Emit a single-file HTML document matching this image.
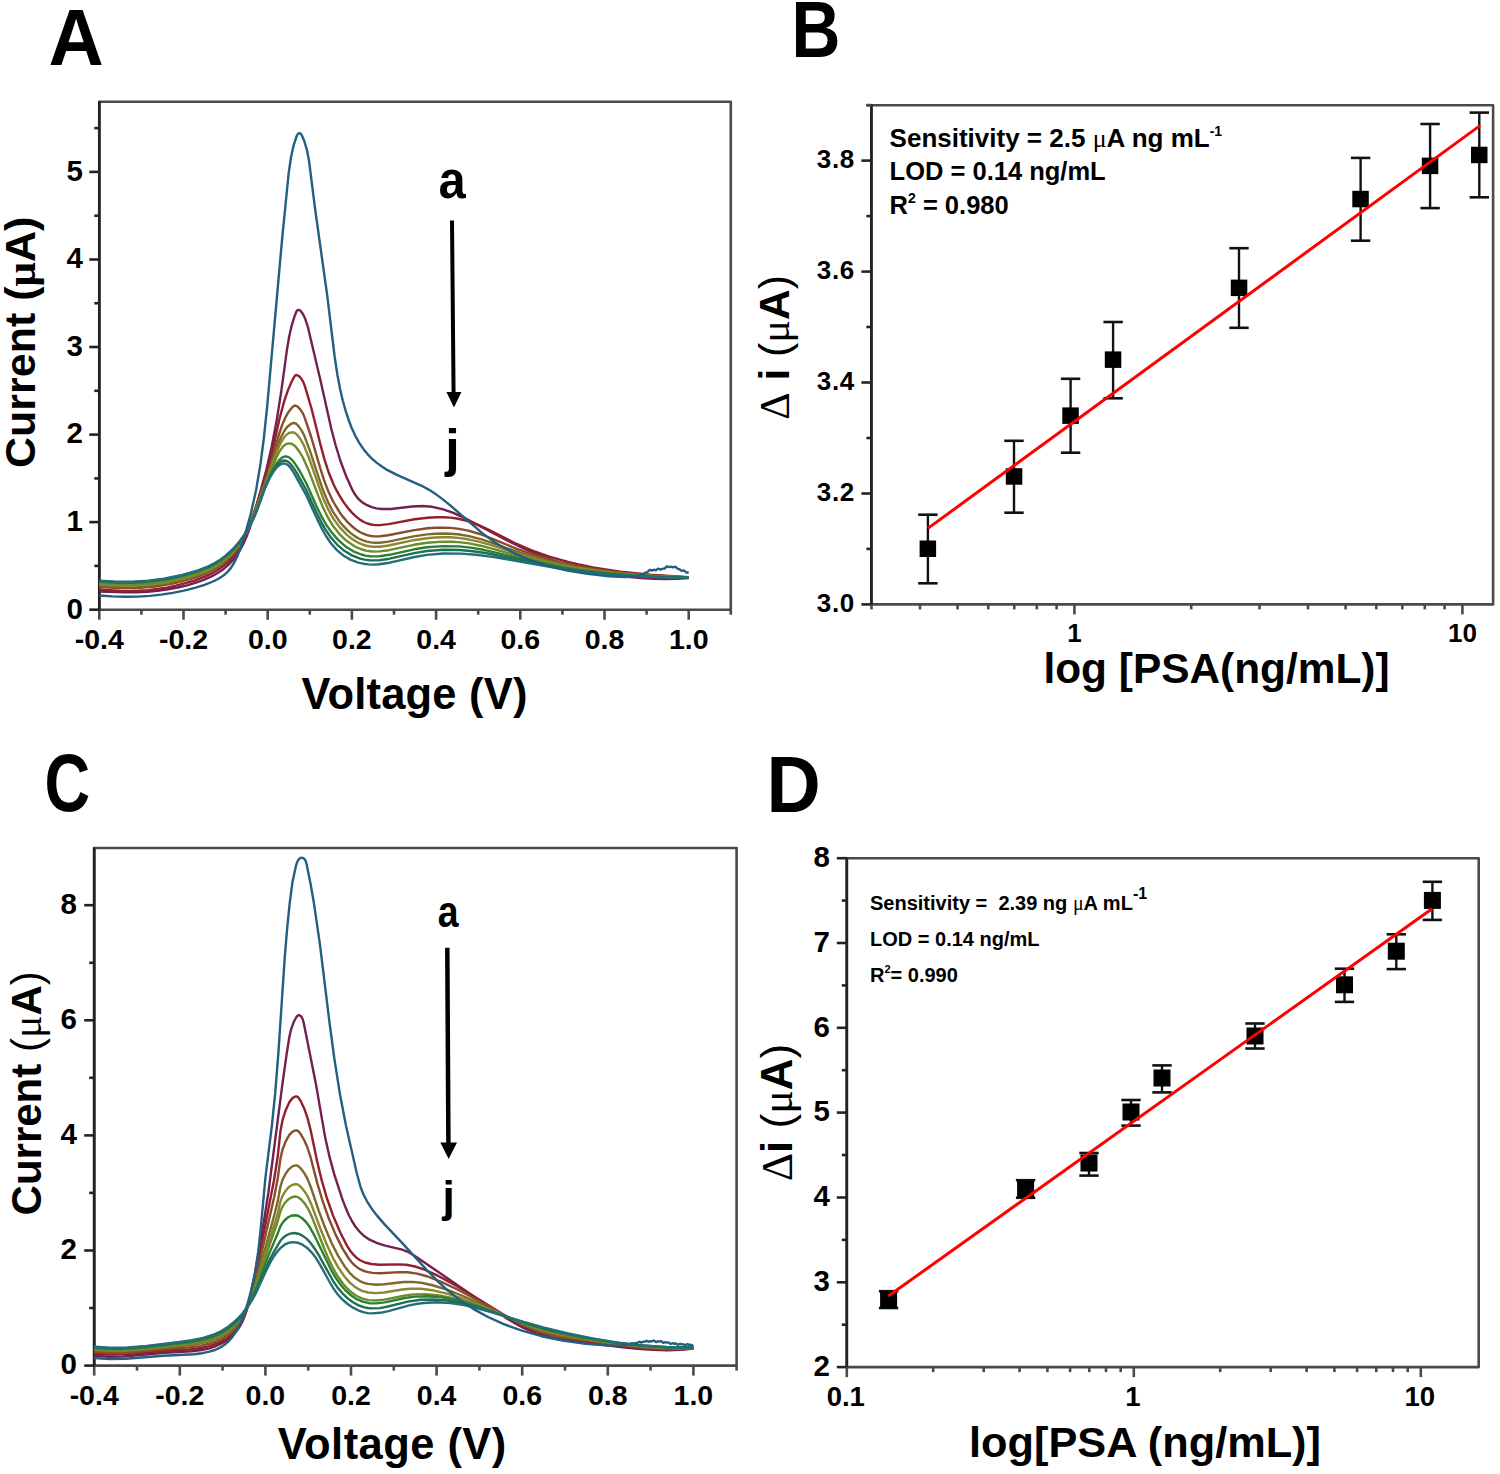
<!DOCTYPE html>
<html><head><meta charset="utf-8"><title>Figure</title>
<style>html,body{margin:0;padding:0;background:#fff;width:1500px;height:1474px;overflow:hidden}svg{display:block}</style>
</head><body>
<svg width="1500" height="1474" viewBox="0 0 1500 1474" font-family='"Liberation Sans", sans-serif'>
<rect width="1500" height="1474" fill="#fff"/>
<rect x="99.3" y="101.8" width="631.5" height="507.9" fill="none" stroke="#4a4a4a" stroke-width="2.6" stroke-linejoin="round"/>
<line x1="99.3" y1="102.3" x2="99.3" y2="609.7" stroke="#232323" stroke-width="2.7" stroke-linecap="round"/>
<line x1="99.3" y1="609.7" x2="99.3" y2="619.7" stroke="#4a4a4a" stroke-width="2.6"/>
<text x="99.3" y="648.7" font-size="28.5" text-anchor="middle" font-weight="bold" fill="#000">-0.4</text>
<line x1="141.4" y1="609.7" x2="141.4" y2="614.7" stroke="#4a4a4a" stroke-width="2.6"/>
<line x1="183.5" y1="609.7" x2="183.5" y2="619.7" stroke="#4a4a4a" stroke-width="2.6"/>
<text x="183.5" y="648.7" font-size="28.5" text-anchor="middle" font-weight="bold" fill="#000">-0.2</text>
<line x1="225.6" y1="609.7" x2="225.6" y2="614.7" stroke="#4a4a4a" stroke-width="2.6"/>
<line x1="267.7" y1="609.7" x2="267.7" y2="619.7" stroke="#4a4a4a" stroke-width="2.6"/>
<text x="267.7" y="648.7" font-size="28.5" text-anchor="middle" font-weight="bold" fill="#000">0.0</text>
<line x1="309.8" y1="609.7" x2="309.8" y2="614.7" stroke="#4a4a4a" stroke-width="2.6"/>
<line x1="351.9" y1="609.7" x2="351.9" y2="619.7" stroke="#4a4a4a" stroke-width="2.6"/>
<text x="351.9" y="648.7" font-size="28.5" text-anchor="middle" font-weight="bold" fill="#000">0.2</text>
<line x1="394" y1="609.7" x2="394" y2="614.7" stroke="#4a4a4a" stroke-width="2.6"/>
<line x1="436.1" y1="609.7" x2="436.1" y2="619.7" stroke="#4a4a4a" stroke-width="2.6"/>
<text x="436.1" y="648.7" font-size="28.5" text-anchor="middle" font-weight="bold" fill="#000">0.4</text>
<line x1="478.2" y1="609.7" x2="478.2" y2="614.7" stroke="#4a4a4a" stroke-width="2.6"/>
<line x1="520.3" y1="609.7" x2="520.3" y2="619.7" stroke="#4a4a4a" stroke-width="2.6"/>
<text x="520.3" y="648.7" font-size="28.5" text-anchor="middle" font-weight="bold" fill="#000">0.6</text>
<line x1="562.4" y1="609.7" x2="562.4" y2="614.7" stroke="#4a4a4a" stroke-width="2.6"/>
<line x1="604.5" y1="609.7" x2="604.5" y2="619.7" stroke="#4a4a4a" stroke-width="2.6"/>
<text x="604.5" y="648.7" font-size="28.5" text-anchor="middle" font-weight="bold" fill="#000">0.8</text>
<line x1="646.6" y1="609.7" x2="646.6" y2="614.7" stroke="#4a4a4a" stroke-width="2.6"/>
<line x1="688.7" y1="609.7" x2="688.7" y2="619.7" stroke="#4a4a4a" stroke-width="2.6"/>
<text x="688.7" y="648.7" font-size="28.5" text-anchor="middle" font-weight="bold" fill="#000">1.0</text>
<line x1="730.8" y1="609.7" x2="730.8" y2="614.7" stroke="#4a4a4a" stroke-width="2.6"/>
<line x1="89.3" y1="609.7" x2="99.3" y2="609.7" stroke="#232323" stroke-width="2.6"/>
<text x="83" y="618.6" font-size="29.5" text-anchor="end" font-weight="bold" fill="#000">0</text>
<line x1="89.3" y1="522.1" x2="99.3" y2="522.1" stroke="#232323" stroke-width="2.6"/>
<text x="83" y="531" font-size="29.5" text-anchor="end" font-weight="bold" fill="#000">1</text>
<line x1="89.3" y1="434.6" x2="99.3" y2="434.6" stroke="#232323" stroke-width="2.6"/>
<text x="83" y="443.4" font-size="29.5" text-anchor="end" font-weight="bold" fill="#000">2</text>
<line x1="89.3" y1="347" x2="99.3" y2="347" stroke="#232323" stroke-width="2.6"/>
<text x="83" y="355.9" font-size="29.5" text-anchor="end" font-weight="bold" fill="#000">3</text>
<line x1="89.3" y1="259.5" x2="99.3" y2="259.5" stroke="#232323" stroke-width="2.6"/>
<text x="83" y="268.3" font-size="29.5" text-anchor="end" font-weight="bold" fill="#000">4</text>
<line x1="89.3" y1="171.9" x2="99.3" y2="171.9" stroke="#232323" stroke-width="2.6"/>
<text x="83" y="180.8" font-size="29.5" text-anchor="end" font-weight="bold" fill="#000">5</text>
<line x1="94.3" y1="565.9" x2="99.3" y2="565.9" stroke="#232323" stroke-width="2.6"/>
<line x1="94.3" y1="478.4" x2="99.3" y2="478.4" stroke="#232323" stroke-width="2.6"/>
<line x1="94.3" y1="390.8" x2="99.3" y2="390.8" stroke="#232323" stroke-width="2.6"/>
<line x1="94.3" y1="303.2" x2="99.3" y2="303.2" stroke="#232323" stroke-width="2.6"/>
<line x1="94.3" y1="215.7" x2="99.3" y2="215.7" stroke="#232323" stroke-width="2.6"/>
<line x1="94.3" y1="128.1" x2="99.3" y2="128.1" stroke="#232323" stroke-width="2.6"/>
<path d="M99.3 591.5L124.9 592.4L136.5 592.2L147.3 591.7L157.7 590.7L167.9 589.3L177.7 587.5L187.1 585.3L195.9 582.7L203.7 579.9L210.9 576.7L217.3 573.2L223.1 569.4L228.1 565.2L232.5 560.7L236.5 555.5L240.1 549.9L243.3 543.9L246.5 536.7L249.5 528.8L255.3 510.1L266.1 470.9L271.7 446.5L276.9 419.1L281.5 389.8L287.1 348.7L289.3 336L291.7 325.6L294.5 316.4L296.5 311.3L297.3 310.3L298.3 309.9L299.3 310.1L300.5 310.8L302.9 314L305.3 319.1L307.7 326.3L320.1 378.8L331.3 428.7L335.7 445.5L340.3 460.5L346.3 476.6L352.5 490.2L354.9 494.3L357.5 497.8L360.1 500.5L363.1 502.9L367.1 505.2L371.7 507.1L376.5 508.4L381.5 509L390.9 509L412.1 506.5L422.1 506L432.3 506.8L443.1 509.3L452.7 512.6L463.3 517.4L511.3 542.5L522.5 547.9L532.9 552.5L545.7 557.6L558.9 562.1L572.5 566.1L586.5 569.7L599.9 572.5L613.5 574.8L627.3 576.7L641.3 578.1L653.9 578.9L665.9 579.1L677.5 578.8L688.7 578" fill="none" stroke="#74204f" stroke-width="2.4" stroke-linejoin="round"/>
<path d="M99.3 589.5L119.5 591L129.1 591.1L138.7 590.8L148.1 590.1L157.5 589L166.7 587.6L175.9 585.7L185.5 583.2L194.3 580.6L202.1 577.7L209.3 574.6L215.7 571.2L221.3 567.6L226.3 563.6L230.7 559.3L236.3 552.3L241.3 544.2L246.1 534.3L250.7 522.5L263.3 484.5L268.1 468.6L271.7 454.2L279.5 418.7L284.3 400.9L287.9 390.4L291.7 381.5L294.3 376.5L295.3 375.4L296.5 375L298.7 375.9L301.1 378.3L303.1 381.6L304.7 385.6L311.5 408.5L320.5 444.8L324.3 458.9L328.7 472.5L333.5 484.3L336.7 490.7L340.3 497L344.1 502.9L348.1 508.2L351.9 512.6L355.9 516.4L359.9 519.6L363.9 522L367.5 523.5L371.1 524.5L375.1 525.1L379.7 525.1L388.7 524.1L414.5 519.3L427.9 517.7L435.9 517.2L443.3 517.2L450.3 517.6L457.1 518.5L467.5 521L478.7 525.1L488.9 529.9L514.3 542.9L531.7 550.4L549.3 556.6L568.1 562L580.3 564.8L592.9 567.4L620.3 571.6L650.7 574.7L688.7 577.2" fill="none" stroke="#921f2e" stroke-width="2.4" stroke-linejoin="round"/>
<path d="M99.3 586.8L118.5 588.2L137.1 588.1L155.1 586.5L172.9 583.5L191.1 578.9L198.9 576.3L205.9 573.5L212.3 570.5L218.1 567.1L223.3 563.5L227.9 559.7L233.7 553.5L238.9 546.5L243.7 538.4L248.1 529.3L254.7 512.2L266.9 476.1L270.9 463.1L278.3 436.5L282.1 425.1L285.3 417.6L288.5 412L292.5 407.1L294.1 405.8L295.3 405.5L297.3 406.3L300.1 409.2L302.5 412.8L304.3 416.6L310.9 436L320.1 467.6L323.9 479.6L328.3 491.3L333.1 501.5L339.7 512.4L343.5 517.4L347.3 521.8L351.3 525.7L355.3 529L359.3 531.7L363.3 533.7L367.1 535.1L370.9 536L375.1 536.4L379.7 536.3L388.1 535.3L412.9 530.4L427.5 528.3L435.5 527.7L443.1 527.6L450.5 527.9L457.5 528.6L468.3 530.6L479.7 534L490.1 537.9L516.9 548.9L536.1 555.6L553.9 560.8L572.1 565.1L596.3 569.5L622.9 572.9L652.3 575.4L688.7 577.4" fill="none" stroke="#8a4d2c" stroke-width="2.4" stroke-linejoin="round"/>
<path d="M99.3 585.2L117.9 586.5L135.9 586.5L153.5 585.1L170.7 582.3L188.7 578L196.5 575.5L203.5 573L209.9 570.1L215.7 567.1L220.9 563.7L225.7 560.1L231.5 554.6L236.9 548.2L241.9 540.8L246.5 532.5L251.1 522.4L255.7 510.4L269.5 470.5L277.1 447.4L280.7 437.9L283.9 431.5L287.1 427L290.5 424.2L292.3 423.4L294.1 423L296.1 423.7L298.7 426.4L301.7 430.6L304.1 435.2L310.5 452.3L319.5 480L323.3 490.8L327.9 501.9L332.9 511.6L339.5 521.4L343.1 525.7L346.9 529.7L350.7 533.1L354.7 536.1L358.7 538.5L362.9 540.4L366.7 541.6L370.7 542.4L374.9 542.8L379.7 542.7L388.5 541.6L413.3 536.4L427.1 534.4L435.1 533.7L442.9 533.5L450.5 533.7L457.9 534.3L468.9 536.1L480.9 539.2L491.3 542.6L519.5 552.5L540.1 558.8L557.5 563.3L575.1 566.9L598.9 570.8L624.9 573.7L653.5 575.8L688.7 577.5" fill="none" stroke="#7f682b" stroke-width="2.4" stroke-linejoin="round"/>
<path d="M99.3 584.3L117.5 585.6L135.1 585.6L152.3 584.3L169.3 581.7L187.1 577.5L202.1 572.6L208.5 569.9L214.3 567L219.5 563.8L224.3 560.4L230.3 555.1L235.9 548.8L241.1 541.6L245.9 533.5L250.3 524.4L254.7 513.7L274.9 456.9L279.5 445.4L282.7 439.4L285.7 435.4L288.9 433L292.1 432.3L294.5 432.7L296.9 434.6L300.7 439.6L303.7 444.9L310.1 461L319.3 487.7L323.3 498.4L328.1 509.2L333.1 518.2L339.7 527.4L346.9 534.9L350.7 538L354.5 540.6L358.5 542.8L362.5 544.5L366.5 545.8L370.5 546.5L374.9 546.8L379.7 546.7L388.7 545.5L413.5 540.2L427.1 538.2L435.1 537.5L442.9 537.2L450.5 537.3L458.1 537.9L468.1 539.3L478.7 541.6L491.3 545.2L520.7 554.5L536.7 559.1L557.1 564.1L577.1 568L600.5 571.5L626.1 574.2L654.3 576.1L688.7 577.6" fill="none" stroke="#8a8830" stroke-width="2.4" stroke-linejoin="round"/>
<path d="M99.3 583.2L117.1 584.4L134.3 584.4L151.3 583.1L167.9 580.7L185.3 576.8L200.5 572.1L206.9 569.5L212.7 566.7L217.9 563.7L222.7 560.5L229.1 555.1L235.1 548.9L240.7 541.5L245.7 533.5L249.9 525.4L254.1 515.8L266.5 481.5L277.1 456.1L280.1 450.5L283.1 446.4L285.9 444.2L288.9 443.3L292.1 444L295.3 446.3L298.9 450.9L302.9 457.5L309.1 471.6L318.7 496.9L322.9 507.2L327.9 517.5L333.1 526L339.5 534.1L346.5 540.8L354.1 546L357.9 547.9L361.9 549.5L365.9 550.6L370.1 551.3L374.7 551.6L379.5 551.4L388.9 550.2L413.9 544.8L426.9 542.7L442.9 541.6L450.7 541.7L458.5 542.1L469.1 543.4L480.7 545.7L541.3 561.7L560.7 566L580.1 569.4L603.1 572.4L628.1 574.7L655.5 576.4L688.7 577.6" fill="none" stroke="#6c8c2c" stroke-width="2.4" stroke-linejoin="round"/>
<path d="M99.3 581.6L116.3 582.7L132.9 582.8L149.3 581.7L165.5 579.5L182.5 575.9L197.9 571.4L209.9 566.6L215.3 563.7L220.1 560.8L226.9 555.6L233.3 549.5L239.3 542.5L244.7 534.7L249.7 526L254.1 516.7L257.5 508.2L265.5 485.8L268.5 478.7L272.1 471.4L276.1 464.3L279.5 459.7L282.7 457.1L285.7 456.3L288.7 457.1L291.7 459.6L295.1 463.8L299.7 471L306.3 483.3L317.1 507.4L321.3 516.1L326.3 524.9L331.5 532.3L338.3 540.1L345.5 546.4L353.3 551.3L361.3 554.5L365.5 555.6L369.9 556.2L374.5 556.4L379.5 556.2L389.3 554.8L414.1 549.3L426.9 547.2L442.9 546.1L459.1 546.4L470.7 547.6L483.5 549.8L547.3 564.4L565.3 567.9L583.5 570.7L605.9 573.3L630.1 575.3L656.7 576.7L688.7 577.7" fill="none" stroke="#2a822e" stroke-width="2.4" stroke-linejoin="round"/>
<path d="M99.3 581L116.1 582.1L132.5 582.2L148.7 581.1L164.7 579L181.3 575.6L196.9 571.2L208.9 566.5L214.3 563.7L219.1 560.9L226.1 555.7L232.7 549.7L238.9 542.6L244.5 534.8L249.7 526L254.3 516.5L257.7 508.1L265.1 487.4L270.7 475.2L274.7 468.5L278.1 464.1L281.3 461.4L282.9 460.7L284.5 460.5L287.3 461.2L290.1 463.4L292.9 466.9L296.9 473.2L305.9 489.4L317.1 513.8L321.3 522.3L325.9 530.3L330.9 537.5L337.3 544.8L344.3 550.8L351.9 555.4L360.1 558.6L364.7 559.6L369.3 560.3L374.1 560.4L379.3 560.2L389.5 558.7L414.3 553.1L426.9 551L443.1 549.7L459.9 550L472.9 551.2L487.1 553.3L552.7 566.5L569.5 569.4L586.9 571.7L608.7 574L632.1 575.7L657.9 576.9L688.7 577.8" fill="none" stroke="#236c55" stroke-width="2.4" stroke-linejoin="round"/>
<path d="M99.3 580.6L115.9 581.7L132.3 581.7L148.3 580.7L164.1 578.7L180.7 575.3L196.3 571L208.3 566.3L213.7 563.7L218.5 560.9L225.7 555.7L232.5 549.5L238.7 542.6L244.5 534.7L249.7 526L254.3 516.7L257.7 508.4L264.9 488.3L269.9 477.5L273.7 471.3L277.1 467L280.5 464.3L283.5 463.4L286.1 464L288.5 465.6L290.9 468.3L293.7 472.6L305.9 494.6L317.7 520.3L321.9 528.8L326.3 536.5L330.9 543.2L336.9 550.1L343.3 555.5L350.3 559.6L358.3 562.6L363.3 563.7L368.3 564.4L373.5 564.6L378.9 564.3L389.7 562.7L414.5 557L426.9 554.9L443.3 553.5L460.9 553.6L476.1 554.8L492.7 556.9L509.9 559.7L558.1 568.4L574.1 570.8L590.7 572.8L611.9 574.7L634.5 576.2L659.3 577.2L688.7 577.9" fill="none" stroke="#236e78" stroke-width="2.4" stroke-linejoin="round"/>
<path d="M99.3 595.5L112.7 596.4L125.5 596.7L137.7 596.6L149.7 595.9L161.3 594.6L172.7 592.9L183.9 590.6L194.9 587.8L204.5 584.8L211.9 582L218.1 579L223.1 575.8L227.3 572.1L230.9 567.9L234.3 562.5L237.3 556.3L240.5 548.1L244.3 536.8L250.7 514.3L256.1 490L260.5 463.9L263.7 439.5L267.1 407.2L282.1 239.1L288.7 173L290.9 157.8L293.7 145.1L296.7 136L298.1 133.7L299.3 133.1L300.3 133.4L301.5 134.8L304.1 140.5L306.9 149.9L308.9 159.9L315.1 208.9L327.3 296.2L334.7 357L337.3 374.2L340.1 389L342.7 400.2L345.5 410.4L348.5 419.7L351.7 428L355.3 435.8L359.1 442.6L363.3 448.9L367.7 454.3L371.9 458.6L376.5 462.6L381.5 466.3L387.1 469.9L396.9 474.9L421.7 485.8L428.7 489.6L435.7 494.1L442.5 499.1L449.7 504.9L480.5 531.7L488.1 537.6L495.5 542.7L503.9 547.8L512.7 552.4L521.9 556.7L531.5 560.5L548.7 566L567.3 570.5L587.5 573.9L609.1 576.2L625.5 577L635.1 576.4L638.9 575.6L641.3 574.2L643.5 573.9L645.5 572.6L647.3 572.2L649.7 569.9L651.9 570.5L653.9 569.8L655.9 570.2L658.3 568.6L660.7 569.6L662.5 568.7L664.5 568.6L666.3 566.8L667.1 566.4L668.9 567.2L671.1 566.7L673.1 567.4L675.3 566.6L677.5 568.7L679.5 569.3L681.5 570.9L683.9 570.4L686.1 572.3L688.7 572.7" fill="none" stroke="#235f80" stroke-width="2.4" stroke-linejoin="round"/>
<text transform="translate(452.2,198.4) scale(0.94,1)" font-size="52" text-anchor="middle" font-weight="bold">a</text>
<line x1="452" y1="220.4" x2="453.6" y2="395" stroke="#000" stroke-width="4"/>
<polygon points="446.4,392 461.4,392 454,407.5" fill="#000"/>
<text transform="translate(452.5,466) scale(1.0,1)" font-size="52" text-anchor="middle" font-weight="bold">j</text>
<text transform="translate(414.5,709.2) scale(1.0,1)" font-size="43.5" text-anchor="middle" font-weight="bold" letter-spacing="0.2">Voltage (V)</text>
<text transform="translate(35,342.3) rotate(-90)" font-size="43" text-anchor="middle" font-weight="bold">Current (<tspan font-family="'Liberation Serif', serif">&#956;</tspan>A)</text>
<text transform="translate(48.5,65) scale(0.956,1)" font-size="80" text-anchor="start" font-weight="bold">A</text>
<rect x="94.2" y="848" width="642.4" height="517.6" fill="none" stroke="#4a4a4a" stroke-width="2.6" stroke-linejoin="round"/>
<line x1="94.2" y1="848.5" x2="94.2" y2="1365.6" stroke="#232323" stroke-width="2.7" stroke-linecap="round"/>
<line x1="94.2" y1="1365.6" x2="94.2" y2="1375.6" stroke="#4a4a4a" stroke-width="2.6"/>
<text x="94.2" y="1405.3" font-size="28.5" text-anchor="middle" font-weight="bold" fill="#000">-0.4</text>
<line x1="137" y1="1365.6" x2="137" y2="1370.6" stroke="#4a4a4a" stroke-width="2.6"/>
<line x1="179.8" y1="1365.6" x2="179.8" y2="1375.6" stroke="#4a4a4a" stroke-width="2.6"/>
<text x="179.8" y="1405.3" font-size="28.5" text-anchor="middle" font-weight="bold" fill="#000">-0.2</text>
<line x1="222.6" y1="1365.6" x2="222.6" y2="1370.6" stroke="#4a4a4a" stroke-width="2.6"/>
<line x1="265.4" y1="1365.6" x2="265.4" y2="1375.6" stroke="#4a4a4a" stroke-width="2.6"/>
<text x="265.4" y="1405.3" font-size="28.5" text-anchor="middle" font-weight="bold" fill="#000">0.0</text>
<line x1="308.2" y1="1365.6" x2="308.2" y2="1370.6" stroke="#4a4a4a" stroke-width="2.6"/>
<line x1="351" y1="1365.6" x2="351" y2="1375.6" stroke="#4a4a4a" stroke-width="2.6"/>
<text x="351" y="1405.3" font-size="28.5" text-anchor="middle" font-weight="bold" fill="#000">0.2</text>
<line x1="393.8" y1="1365.6" x2="393.8" y2="1370.6" stroke="#4a4a4a" stroke-width="2.6"/>
<line x1="436.6" y1="1365.6" x2="436.6" y2="1375.6" stroke="#4a4a4a" stroke-width="2.6"/>
<text x="436.6" y="1405.3" font-size="28.5" text-anchor="middle" font-weight="bold" fill="#000">0.4</text>
<line x1="479.4" y1="1365.6" x2="479.4" y2="1370.6" stroke="#4a4a4a" stroke-width="2.6"/>
<line x1="522.2" y1="1365.6" x2="522.2" y2="1375.6" stroke="#4a4a4a" stroke-width="2.6"/>
<text x="522.2" y="1405.3" font-size="28.5" text-anchor="middle" font-weight="bold" fill="#000">0.6</text>
<line x1="565" y1="1365.6" x2="565" y2="1370.6" stroke="#4a4a4a" stroke-width="2.6"/>
<line x1="607.8" y1="1365.6" x2="607.8" y2="1375.6" stroke="#4a4a4a" stroke-width="2.6"/>
<text x="607.8" y="1405.3" font-size="28.5" text-anchor="middle" font-weight="bold" fill="#000">0.8</text>
<line x1="650.6" y1="1365.6" x2="650.6" y2="1370.6" stroke="#4a4a4a" stroke-width="2.6"/>
<line x1="693.4" y1="1365.6" x2="693.4" y2="1375.6" stroke="#4a4a4a" stroke-width="2.6"/>
<text x="693.4" y="1405.3" font-size="28.5" text-anchor="middle" font-weight="bold" fill="#000">1.0</text>
<line x1="736.6" y1="1365.6" x2="736.6" y2="1370.6" stroke="#4a4a4a" stroke-width="2.6"/>
<line x1="84.2" y1="1365.6" x2="94.2" y2="1365.6" stroke="#232323" stroke-width="2.6"/>
<text x="77" y="1374.4" font-size="29.5" text-anchor="end" font-weight="bold" fill="#000">0</text>
<line x1="84.2" y1="1250.5" x2="94.2" y2="1250.5" stroke="#232323" stroke-width="2.6"/>
<text x="77" y="1259.3" font-size="29.5" text-anchor="end" font-weight="bold" fill="#000">2</text>
<line x1="84.2" y1="1135.4" x2="94.2" y2="1135.4" stroke="#232323" stroke-width="2.6"/>
<text x="77" y="1144.2" font-size="29.5" text-anchor="end" font-weight="bold" fill="#000">4</text>
<line x1="84.2" y1="1020.3" x2="94.2" y2="1020.3" stroke="#232323" stroke-width="2.6"/>
<text x="77" y="1029.1" font-size="29.5" text-anchor="end" font-weight="bold" fill="#000">6</text>
<line x1="84.2" y1="905.2" x2="94.2" y2="905.2" stroke="#232323" stroke-width="2.6"/>
<text x="77" y="914" font-size="29.5" text-anchor="end" font-weight="bold" fill="#000">8</text>
<line x1="89.2" y1="1308" x2="94.2" y2="1308" stroke="#232323" stroke-width="2.6"/>
<line x1="89.2" y1="1192.9" x2="94.2" y2="1192.9" stroke="#232323" stroke-width="2.6"/>
<line x1="89.2" y1="1077.8" x2="94.2" y2="1077.8" stroke="#232323" stroke-width="2.6"/>
<line x1="89.2" y1="962.8" x2="94.2" y2="962.8" stroke="#232323" stroke-width="2.6"/>
<path d="M94.2 1355.5L108 1356.7L123.4 1356.5L164.6 1352.8L191.8 1351.3L203.6 1349.7L209.6 1348.3L215.2 1346.4L220.6 1343.9L225.4 1341.2L229.6 1338.1L233.4 1334.7L236.8 1330.8L239.8 1326.4L242.4 1321.6L244.8 1315.9L246.8 1310.1L248.8 1302.8L254.6 1275.2L260.8 1241.5L268.4 1192.4L282.6 1082.7L286.6 1054.3L289.4 1036.8L291.2 1029.1L293.6 1022.3L296.6 1016.8L297.8 1015.5L298.8 1015.2L300.2 1015.7L301.6 1017L302.6 1019L303.6 1022.3L315.8 1083.4L325.2 1137.6L329.4 1156.4L334.2 1174.1L342 1198.1L345.8 1208.1L349 1215.5L352.2 1221.5L355.6 1226.8L359.4 1231.5L363.4 1235.4L369.6 1239.7L377.2 1243.2L385.2 1245.7L402.2 1249.7L406.6 1251.3L410.8 1253.4L417.2 1257.4L477.2 1298.8L504.8 1317.1L514.4 1322.9L523 1327.6L531.4 1331.5L539.4 1334.6L549.6 1337.5L561.4 1339.7L620.8 1347L637.6 1348.8L653 1349.9L667.2 1350.2L680.6 1349.7L693.4 1348.5" fill="none" stroke="#74204f" stroke-width="2.4" stroke-linejoin="round"/>
<path d="M94.2 1353.5L108.2 1354.6L123.8 1354.4L165.2 1350.8L190.6 1349.3L201.2 1348L207 1346.8L212.4 1345.2L217.4 1343.4L222.2 1341.1L226.6 1338.5L230.4 1335.7L233.8 1332.6L236.8 1329.1L239.6 1325.1L242 1320.9L246.2 1311L249.8 1299L254.4 1279.4L259.6 1254.2L274 1180.3L277.6 1157.3L280.6 1130.2L282.6 1119.9L285.6 1110.4L289.2 1102.5L290.8 1100.1L292.6 1098.1L294.4 1096.9L296.2 1096.4L297.4 1096.7L298.4 1097.5L300.8 1101.2L304.2 1108.5L307.2 1116.9L310.4 1129.1L317 1160.7L321.6 1179.9L327 1198.5L333 1215.4L340.4 1232.8L347.2 1246.1L350.2 1250.7L353.2 1254.4L356.4 1257.6L359.6 1260L365 1262.5L371.4 1264L379.4 1264.7L398 1264.4L406.2 1264.8L415 1266.5L424.6 1269.7L437.8 1275.7L453.4 1284.1L467.8 1292.6L502.2 1313.8L519.8 1323.9L527.4 1327.7L534.6 1330.9L541.2 1333.4L547.8 1335.5L556 1337.3L565.8 1338.8L622.8 1345.9L641.4 1347.9L655.6 1348.9L668.8 1349.3L681.4 1349.2L693.4 1348.5" fill="none" stroke="#921f2e" stroke-width="2.4" stroke-linejoin="round"/>
<path d="M94.2 1351.9L109 1353L125.4 1352.8L166.2 1349L188.4 1347.4L199.2 1346.1L210.4 1343.5L215.4 1341.8L220.2 1339.7L224.6 1337.3L228.6 1334.6L232.2 1331.7L235.4 1328.5L238.2 1325.1L240.8 1321.3L245.2 1312.9L249 1302.7L253.2 1287.9L258.6 1265.9L274.2 1197.1L277.6 1179.3L280.6 1157.7L282.6 1149.4L285.6 1141.6L289.2 1135.2L292.6 1131.7L294.4 1130.7L296.2 1130.4L297.4 1130.6L298.4 1131.3L301 1134.6L304.4 1140.5L307.4 1147.5L310.4 1156.7L317.4 1183.6L322.6 1201L328.8 1218.5L335.6 1234.6L342.6 1248.6L348.4 1258L351.2 1261.7L354.2 1264.9L357.2 1267.4L360.2 1269.3L365.8 1271.6L372.4 1272.9L380.6 1273.2L399.4 1272.1L407.6 1272.2L417.2 1273.6L427.6 1276.5L441.8 1282.1L457.4 1289.5L472 1297.3L506.4 1316.4L523 1324.9L537.4 1331L544.2 1333.2L550.8 1335L559.6 1336.8L570.2 1338.4L617.6 1344.8L639.8 1347.3L654.4 1348.4L668 1348.9L681 1348.9L693.4 1348.3" fill="none" stroke="#8a4d2c" stroke-width="2.4" stroke-linejoin="round"/>
<path d="M94.2 1350.3L101.8 1351L109.8 1351.4L127 1351.1L185.2 1345.7L196.2 1344.3L207.4 1341.9L217.2 1338.6L225.6 1334.1L229.4 1331.5L233 1328.5L238.8 1322.2L243.6 1315L247.6 1306.8L251.6 1296L257.6 1276.3L274.6 1214L277.8 1200.9L280.4 1186.8L282.4 1180.2L285.4 1174L288.8 1169.3L292.4 1166.3L294.2 1165.6L296 1165.4L297.4 1165.6L298.6 1166.3L301.4 1169.2L304.8 1173.9L307.8 1179.6L310.8 1187L318.6 1210.4L325 1227.5L331.6 1243L338 1255.6L344.2 1265.7L349.6 1272.8L355.2 1278.1L361 1281.7L364.4 1283L368 1283.9L376.2 1284.7L384.4 1284.2L403.6 1282L413 1281.9L422.6 1283L433.4 1285.5L447.6 1289.9L463 1296L477.4 1302.5L511.6 1318.9L528 1326L543.2 1331.3L558.2 1335L572.2 1337.5L604.4 1342.3L638.6 1346.5L653.4 1347.7L667.2 1348.4L680.6 1348.5L693.4 1348.1" fill="none" stroke="#7f682b" stroke-width="2.4" stroke-linejoin="round"/>
<path d="M94.2 1349.4L110 1350.5L127.6 1350.2L143.4 1348.9L194 1343.5L205.4 1341.2L215.2 1338.1L223.8 1333.9L231.2 1328.7L237.2 1323L242.4 1316.2L246.8 1308.5L250.8 1299.3L254.6 1288.8L258.4 1277L266.6 1249.3L276 1219.5L278.2 1211.5L280.4 1201.7L282.2 1196.7L285.2 1191.4L288.6 1187.3L292 1185L295.6 1184.2L297 1184.3L298.4 1184.9L301.4 1187.5L305 1192L308.2 1197.4L311.4 1204.6L320.4 1228.7L327.2 1245.5L332.8 1257.6L338.4 1267.6L344.2 1276.2L349.6 1282.4L355.4 1287.3L361.4 1290.6L368 1292.5L375.6 1293.1L384 1292.5L402.4 1289.5L410.4 1288.7L420.8 1288.8L432 1290.2L446 1293.3L460.8 1297.8L477.2 1304.1L511 1318.5L525.6 1324.3L541.2 1329.6L556 1333.4L571.4 1336.4L596.8 1340.6L616.6 1343.5L634.4 1345.6L650.2 1347.1L665.2 1347.9L679.6 1348.2L693.4 1347.9" fill="none" stroke="#8a8830" stroke-width="2.4" stroke-linejoin="round"/>
<path d="M94.2 1348.8L102 1349.6L110.2 1350L127.8 1349.6L144.4 1348.2L192 1343L203.6 1340.8L213.4 1337.9L222 1334L229.6 1329.1L235.8 1323.7L241.2 1317.3L246 1309.9L250.2 1301.3L257.4 1282.3L267.2 1251.8L277 1223.6L280.4 1211.5L282 1207.6L284.8 1203L288.2 1199.4L291.6 1197.2L295.2 1196.5L298.2 1197.2L301.4 1199.7L305 1203.9L308.4 1209.3L312 1217.1L322.8 1245L328.2 1258.1L333 1268.2L338 1276.8L343.6 1284.5L349.4 1290.6L355.4 1295.2L361.6 1298.3L368.4 1300.1L376 1300.5L384.6 1299.6L404.2 1295.6L413.4 1294.4L425.8 1294.2L439.2 1295.5L451.8 1297.9L465.4 1301.6L480.8 1306.9L514.2 1319.6L529.8 1325.1L546.6 1330.1L564.6 1334.3L602 1340.9L619.2 1343.4L635.2 1345.3L650.4 1346.7L665.2 1347.5L679.4 1347.9L693.4 1347.7" fill="none" stroke="#6c8c2c" stroke-width="2.4" stroke-linejoin="round"/>
<path d="M94.2 1348L110.4 1349.1L128 1348.7L145.4 1347.2L188 1342.4L200 1340.4L210 1337.7L218.8 1334.3L226.4 1330L233.2 1324.8L239.2 1318.8L244.6 1311.7L249.4 1303.6L256 1289.1L268.6 1255.1L277.6 1233.8L280.2 1226.9L281.6 1224.2L284.4 1220.5L287.8 1217.5L291.2 1215.8L294.8 1215.2L298.2 1215.8L301.8 1218L305.6 1221.5L309.2 1226.2L315 1236.7L331.2 1270.1L335.8 1277.9L340.6 1284.7L345.8 1290.7L351.2 1295.5L356.8 1299.2L362.6 1301.7L369.2 1303.2L376.6 1303.4L384.8 1302.4L405 1298L414.8 1296.6L427.8 1296.2L442 1297.4L454.2 1299.7L467.2 1303L482 1307.8L515.8 1320.1L532.4 1325.6L550.2 1330.6L570.4 1335.1L605 1341.2L621 1343.5L636.4 1345.3L651.2 1346.6L665.6 1347.4L679.6 1347.8L693.4 1347.6" fill="none" stroke="#2a822e" stroke-width="2.4" stroke-linejoin="round"/>
<path d="M94.2 1347.1L110.4 1348.2L127.8 1347.9L145.6 1346.4L182.4 1342.1L195.4 1340.1L205.8 1337.8L215 1334.7L223 1330.8L230 1326.2L236.6 1320.4L242.6 1313.8L248.2 1306L252.4 1298.8L256.4 1290.8L266.4 1267L270.4 1258.3L274.8 1250.1L280.4 1240.8L283.4 1237.5L286.8 1235L290.2 1233.6L294 1233L298.2 1233.7L302.4 1235.6L306.8 1238.9L310.8 1243.3L314.4 1248.2L318.6 1254.9L333.4 1281.5L337.8 1287.9L342.4 1293.3L347.4 1298.1L352.6 1302L358 1305.1L363.6 1307.2L367.4 1308L371.2 1308.4L379.8 1308.1L388 1306.5L407.8 1301.6L420.6 1299.8L433.2 1299.5L446.4 1300.4L459.8 1302.7L474.6 1306.4L488 1310.5L522.2 1321.9L543.4 1328.1L562.2 1332.8L583.2 1337.1L612.6 1342.1L640.6 1345.4L667.4 1347.2L693.4 1347.5" fill="none" stroke="#236c55" stroke-width="2.4" stroke-linejoin="round"/>
<path d="M94.2 1346.7L110 1347.8L127.2 1347.5L145 1346.1L177.6 1342.2L192 1340.2L203 1337.9L212.6 1335L221 1331.3L228.2 1326.8L235 1321.3L241.6 1314.5L247.6 1306.9L252 1300.2L256.2 1292.6L266.2 1270.6L270 1263L273.8 1256.5L277.6 1251.2L281.4 1247.2L285.2 1244.3L289 1242.7L293.2 1242.1L298 1242.8L302.6 1244.7L307.2 1247.9L311.6 1252.3L315.2 1256.9L319 1262.8L329.6 1282L333.4 1288.4L337.6 1294.2L342 1299.1L347 1303.5L352.6 1307.4L358.2 1310.3L364 1312.3L367.8 1313.1L371.8 1313.4L380.4 1312.8L388.4 1311.1L409.2 1305.4L416.2 1304L423.4 1303L436.8 1302.3L450.4 1303L462 1304.7L474.8 1307.5L489.2 1311.5L523.8 1322L543.2 1327.4L568.2 1333.5L592.6 1338.5L618.4 1342.6L643.8 1345.5L668.8 1347.1L693.4 1347.4" fill="none" stroke="#236e78" stroke-width="2.4" stroke-linejoin="round"/>
<path d="M94.2 1358L109.4 1359.1L125.6 1358.8L163.6 1355.7L193.8 1354.2L202.2 1353.2L209.4 1351.7L215 1350L220 1347.7L224.2 1345.1L228.2 1341.7L232 1337.5L235.4 1332.6L238.6 1326.9L241.8 1320L247 1305.5L251.4 1289.8L255 1272.7L258 1253.3L260.4 1232.1L265.4 1177.9L272 1124.7L275.2 1093.2L278.4 1052.7L284.8 956.7L287.2 927.9L289.6 904.1L292.4 882.6L295.8 866.4L297 862.5L298.4 859.8L300 858.2L301.8 857.7L303.2 858.1L304.6 859.2L305.6 860.8L306.4 863.3L310.2 881.9L313.8 902.3L319.8 943.3L329.6 1023.3L334.4 1059L340 1094.4L346 1125.8L356.8 1173.2L360.8 1187.7L363.6 1194.7L367 1201.3L371.4 1208.2L376.6 1215.1L384.8 1224.6L403 1243.9L428.4 1271.7L438.6 1282.1L448.2 1290.8L460.4 1300.4L473.6 1309.1L488 1317L503.2 1323.9L521.8 1330.7L541.6 1336.2L562.8 1340.5L585.6 1343.7L605.6 1345.4L619 1345.6L629.8 1344.3L632 1343.1L634.2 1343.6L635.8 1342.9L637.4 1342.9L639.2 1341.6L641.4 1342.6L643 1341.7L644.8 1341.7L646.4 1340.7L648.8 1341.9L650.4 1341.1L652.2 1341.3L653.8 1340.5L656 1342.1L657.8 1341.2L659.4 1341.7L661.2 1341.2L663.2 1342.9L665.2 1342.1L666.8 1342.6L668.4 1342.4L670.6 1344L672.8 1343.1L674.2 1343.7L676 1343.5L677.8 1344.9L680 1343.8L681.6 1344.4L683.4 1344.3L685.2 1345.4L687.2 1344.1L689 1344.8L690.8 1344.7L692.4 1345.6L693.4 1345" fill="none" stroke="#235f80" stroke-width="2.4" stroke-linejoin="round"/>
<text transform="translate(448.1,927) scale(0.85,1)" font-size="44" text-anchor="middle" font-weight="bold">a</text>
<line x1="447.3" y1="947.7" x2="448.4" y2="1145" stroke="#000" stroke-width="4.5"/>
<polygon points="440.3,1142.5 457,1142.5 448.7,1159.1" fill="#000"/>
<text transform="translate(448.5,1212) scale(1.0,1)" font-size="44" text-anchor="middle" font-weight="bold">j</text>
<text transform="translate(392.3,1459.4) scale(1.0,1)" font-size="43.5" text-anchor="middle" font-weight="bold" letter-spacing="0.45">Voltage (V)</text>
<text transform="translate(41,1093.3) rotate(-90)" font-size="42" text-anchor="middle" font-weight="bold">Current <tspan font-weight="normal">(</tspan><tspan font-family="'Liberation Serif', serif" font-weight="normal">&#956;</tspan>A<tspan font-weight="normal">)</tspan></text>
<text transform="translate(44.5,811) scale(0.768,1)" font-size="82.3" text-anchor="start" font-weight="bold">C</text>
<rect x="871.4" y="105.2" width="621.7" height="499.2" fill="none" stroke="#4a4a4a" stroke-width="2.6" stroke-linejoin="round"/>
<line x1="871.4" y1="105.7" x2="871.4" y2="604.4" stroke="#232323" stroke-width="2.7" stroke-linecap="round"/>
<line x1="861.4" y1="604.4" x2="871.4" y2="604.4" stroke="#232323" stroke-width="2.6"/>
<text x="855" y="611.9" font-size="26" text-anchor="end" font-weight="bold" fill="#000" letter-spacing="0.7">3.0</text>
<line x1="866.4" y1="548.9" x2="871.4" y2="548.9" stroke="#232323" stroke-width="2.6"/>
<line x1="861.4" y1="493.5" x2="871.4" y2="493.5" stroke="#232323" stroke-width="2.6"/>
<text x="855" y="501" font-size="26" text-anchor="end" font-weight="bold" fill="#000" letter-spacing="0.7">3.2</text>
<line x1="866.4" y1="438" x2="871.4" y2="438" stroke="#232323" stroke-width="2.6"/>
<line x1="861.4" y1="382.5" x2="871.4" y2="382.5" stroke="#232323" stroke-width="2.6"/>
<text x="855" y="390" font-size="26" text-anchor="end" font-weight="bold" fill="#000" letter-spacing="0.7">3.4</text>
<line x1="866.4" y1="327" x2="871.4" y2="327" stroke="#232323" stroke-width="2.6"/>
<line x1="861.4" y1="271.6" x2="871.4" y2="271.6" stroke="#232323" stroke-width="2.6"/>
<text x="855" y="279.1" font-size="26" text-anchor="end" font-weight="bold" fill="#000" letter-spacing="0.7">3.6</text>
<line x1="866.4" y1="216.1" x2="871.4" y2="216.1" stroke="#232323" stroke-width="2.6"/>
<line x1="861.4" y1="160.6" x2="871.4" y2="160.6" stroke="#232323" stroke-width="2.6"/>
<text x="855" y="168.1" font-size="26" text-anchor="end" font-weight="bold" fill="#000" letter-spacing="0.7">3.8</text>
<line x1="866.4" y1="105.2" x2="871.4" y2="105.2" stroke="#232323" stroke-width="2.6"/>
<line x1="866.4" y1="105.2" x2="871.4" y2="105.2" stroke="#4a4a4a" stroke-width="2.6"/>
<line x1="871.5" y1="604.4" x2="871.5" y2="609.4" stroke="#4a4a4a" stroke-width="2.6"/>
<line x1="920" y1="604.4" x2="920" y2="609.4" stroke="#4a4a4a" stroke-width="2.6"/>
<line x1="957.6" y1="604.4" x2="957.6" y2="609.4" stroke="#4a4a4a" stroke-width="2.6"/>
<line x1="988.3" y1="604.4" x2="988.3" y2="609.4" stroke="#4a4a4a" stroke-width="2.6"/>
<line x1="1014.3" y1="604.4" x2="1014.3" y2="609.4" stroke="#4a4a4a" stroke-width="2.6"/>
<line x1="1036.8" y1="604.4" x2="1036.8" y2="609.4" stroke="#4a4a4a" stroke-width="2.6"/>
<line x1="1056.6" y1="604.4" x2="1056.6" y2="609.4" stroke="#4a4a4a" stroke-width="2.6"/>
<line x1="1074.4" y1="604.4" x2="1074.4" y2="614.4" stroke="#4a4a4a" stroke-width="2.6"/>
<text x="1074.4" y="642.3" font-size="26" text-anchor="middle" font-weight="bold" fill="#000">1</text>
<line x1="1191.2" y1="604.4" x2="1191.2" y2="609.4" stroke="#4a4a4a" stroke-width="2.6"/>
<line x1="1259.5" y1="604.4" x2="1259.5" y2="609.4" stroke="#4a4a4a" stroke-width="2.6"/>
<line x1="1308" y1="604.4" x2="1308" y2="609.4" stroke="#4a4a4a" stroke-width="2.6"/>
<line x1="1345.6" y1="604.4" x2="1345.6" y2="609.4" stroke="#4a4a4a" stroke-width="2.6"/>
<line x1="1376.3" y1="604.4" x2="1376.3" y2="609.4" stroke="#4a4a4a" stroke-width="2.6"/>
<line x1="1402.3" y1="604.4" x2="1402.3" y2="609.4" stroke="#4a4a4a" stroke-width="2.6"/>
<line x1="1424.8" y1="604.4" x2="1424.8" y2="609.4" stroke="#4a4a4a" stroke-width="2.6"/>
<line x1="1444.6" y1="604.4" x2="1444.6" y2="609.4" stroke="#4a4a4a" stroke-width="2.6"/>
<line x1="1462.4" y1="604.4" x2="1462.4" y2="614.4" stroke="#4a4a4a" stroke-width="2.6"/>
<text x="1462.4" y="642.3" font-size="26" text-anchor="middle" font-weight="bold" fill="#000">10</text>
<line x1="927.9" y1="514.7" x2="927.9" y2="583.3" stroke="#111" stroke-width="2.4"/>
<line x1="918.2" y1="514.7" x2="937.6" y2="514.7" stroke="#111" stroke-width="2.6"/>
<line x1="918.2" y1="583.3" x2="937.6" y2="583.3" stroke="#111" stroke-width="2.6"/>
<rect x="919.6" y="540.5" width="16.5" height="16.5" fill="#000"/>
<line x1="1014" y1="440.8" x2="1014" y2="512.7" stroke="#111" stroke-width="2.4"/>
<line x1="1004.3" y1="440.8" x2="1023.7" y2="440.8" stroke="#111" stroke-width="2.6"/>
<line x1="1004.3" y1="512.7" x2="1023.7" y2="512.7" stroke="#111" stroke-width="2.6"/>
<rect x="1005.8" y="468.2" width="16.5" height="16.5" fill="#000"/>
<line x1="1070.6" y1="378.8" x2="1070.6" y2="452.7" stroke="#111" stroke-width="2.4"/>
<line x1="1060.9" y1="378.8" x2="1080.3" y2="378.8" stroke="#111" stroke-width="2.6"/>
<line x1="1060.9" y1="452.7" x2="1080.3" y2="452.7" stroke="#111" stroke-width="2.6"/>
<rect x="1062.3" y="407.4" width="16.5" height="16.5" fill="#000"/>
<line x1="1113.1" y1="322" x2="1113.1" y2="398.3" stroke="#111" stroke-width="2.4"/>
<line x1="1103.4" y1="322" x2="1122.8" y2="322" stroke="#111" stroke-width="2.6"/>
<line x1="1103.4" y1="398.3" x2="1122.8" y2="398.3" stroke="#111" stroke-width="2.6"/>
<rect x="1104.8" y="351.4" width="16.5" height="16.5" fill="#000"/>
<line x1="1239" y1="248.2" x2="1239" y2="327.8" stroke="#111" stroke-width="2.4"/>
<line x1="1229.3" y1="248.2" x2="1248.7" y2="248.2" stroke="#111" stroke-width="2.6"/>
<line x1="1229.3" y1="327.8" x2="1248.7" y2="327.8" stroke="#111" stroke-width="2.6"/>
<rect x="1230.8" y="279.6" width="16.5" height="16.5" fill="#000"/>
<line x1="1360.6" y1="157.9" x2="1360.6" y2="240.7" stroke="#111" stroke-width="2.4"/>
<line x1="1350.9" y1="157.9" x2="1370.3" y2="157.9" stroke="#111" stroke-width="2.6"/>
<line x1="1350.9" y1="240.7" x2="1370.3" y2="240.7" stroke="#111" stroke-width="2.6"/>
<rect x="1352.3" y="190.8" width="16.5" height="16.5" fill="#000"/>
<line x1="1430.1" y1="124" x2="1430.1" y2="208.1" stroke="#111" stroke-width="2.4"/>
<line x1="1420.4" y1="124" x2="1439.8" y2="124" stroke="#111" stroke-width="2.6"/>
<line x1="1420.4" y1="208.1" x2="1439.8" y2="208.1" stroke="#111" stroke-width="2.6"/>
<rect x="1421.8" y="157.6" width="16.5" height="16.5" fill="#000"/>
<line x1="1479.3" y1="112.6" x2="1479.3" y2="197.3" stroke="#111" stroke-width="2.4"/>
<line x1="1469.6" y1="112.6" x2="1489" y2="112.6" stroke="#111" stroke-width="2.6"/>
<line x1="1469.6" y1="197.3" x2="1489" y2="197.3" stroke="#111" stroke-width="2.6"/>
<rect x="1471" y="146.7" width="16.5" height="16.5" fill="#000"/>
<line x1="927.9" y1="528.4" x2="1480" y2="125.6" stroke="#f00" stroke-width="3"/>
<text x="889.6" y="147.2" font-size="26" text-anchor="start" font-weight="bold" fill="#000">Sensitivity = 2.5 <tspan font-family="'Liberation Serif', serif" font-weight="normal">&#956;</tspan>A ng mL<tspan dy="-11" font-size="14">-1</tspan></text>
<text x="889.6" y="179.6" font-size="25.5" text-anchor="start" font-weight="bold" fill="#000">LOD = 0.14 ng/mL</text>
<text x="889.6" y="214.4" font-size="25.5" text-anchor="start" font-weight="bold" fill="#000">R<tspan dy="-11" font-size="14">2</tspan><tspan dy="11"> = 0.980</tspan></text>
<text transform="translate(1216.5,683) scale(1.0,1)" font-size="42.4" text-anchor="middle" font-weight="bold">log [PSA(ng/mL)]</text>
<text transform="translate(789,347.4) rotate(-90)" font-size="42.5" text-anchor="middle" font-weight="bold"><tspan font-family="'Liberation Serif', serif" font-weight="normal">&#916;</tspan> i <tspan font-weight="normal">(</tspan><tspan font-family="'Liberation Serif', serif" font-weight="normal">&#956;</tspan>A<tspan font-weight="normal">)</tspan></text>
<text transform="translate(791.5,57.3) scale(0.842,1)" font-size="80.4" text-anchor="start" font-weight="bold">B</text>
<rect x="846.8" y="858.2" width="631.9" height="508.9" fill="none" stroke="#4a4a4a" stroke-width="2.6" stroke-linejoin="round"/>
<line x1="846.8" y1="858.7" x2="846.8" y2="1367.1" stroke="#232323" stroke-width="2.7" stroke-linecap="round"/>
<line x1="836.8" y1="1367.1" x2="846.8" y2="1367.1" stroke="#232323" stroke-width="2.6"/>
<text x="830" y="1375.8" font-size="29.5" text-anchor="end" font-weight="bold" fill="#000">2</text>
<line x1="841.8" y1="1324.7" x2="846.8" y2="1324.7" stroke="#232323" stroke-width="2.6"/>
<line x1="836.8" y1="1282.3" x2="846.8" y2="1282.3" stroke="#232323" stroke-width="2.6"/>
<text x="830" y="1291" font-size="29.5" text-anchor="end" font-weight="bold" fill="#000">3</text>
<line x1="841.8" y1="1239.9" x2="846.8" y2="1239.9" stroke="#232323" stroke-width="2.6"/>
<line x1="836.8" y1="1197.5" x2="846.8" y2="1197.5" stroke="#232323" stroke-width="2.6"/>
<text x="830" y="1206.2" font-size="29.5" text-anchor="end" font-weight="bold" fill="#000">4</text>
<line x1="841.8" y1="1155" x2="846.8" y2="1155" stroke="#232323" stroke-width="2.6"/>
<line x1="836.8" y1="1112.6" x2="846.8" y2="1112.6" stroke="#232323" stroke-width="2.6"/>
<text x="830" y="1121.3" font-size="29.5" text-anchor="end" font-weight="bold" fill="#000">5</text>
<line x1="841.8" y1="1070.2" x2="846.8" y2="1070.2" stroke="#232323" stroke-width="2.6"/>
<line x1="836.8" y1="1027.8" x2="846.8" y2="1027.8" stroke="#232323" stroke-width="2.6"/>
<text x="830" y="1036.5" font-size="29.5" text-anchor="end" font-weight="bold" fill="#000">6</text>
<line x1="841.8" y1="985.4" x2="846.8" y2="985.4" stroke="#232323" stroke-width="2.6"/>
<line x1="836.8" y1="943" x2="846.8" y2="943" stroke="#232323" stroke-width="2.6"/>
<text x="830" y="951.7" font-size="29.5" text-anchor="end" font-weight="bold" fill="#000">7</text>
<line x1="841.8" y1="900.6" x2="846.8" y2="900.6" stroke="#232323" stroke-width="2.6"/>
<line x1="836.8" y1="858.2" x2="846.8" y2="858.2" stroke="#232323" stroke-width="2.6"/>
<text x="830" y="866.9" font-size="29.5" text-anchor="end" font-weight="bold" fill="#000">8</text>
<line x1="846.8" y1="1367.1" x2="846.8" y2="1377.1" stroke="#4a4a4a" stroke-width="2.6"/>
<text x="845.8" y="1406.4" font-size="27.5" text-anchor="middle" font-weight="bold" fill="#000">0.1</text>
<line x1="933.2" y1="1367.1" x2="933.2" y2="1372.1" stroke="#4a4a4a" stroke-width="2.6"/>
<line x1="983.7" y1="1367.1" x2="983.7" y2="1372.1" stroke="#4a4a4a" stroke-width="2.6"/>
<line x1="1019.6" y1="1367.1" x2="1019.6" y2="1372.1" stroke="#4a4a4a" stroke-width="2.6"/>
<line x1="1047.4" y1="1367.1" x2="1047.4" y2="1372.1" stroke="#4a4a4a" stroke-width="2.6"/>
<line x1="1070.1" y1="1367.1" x2="1070.1" y2="1372.1" stroke="#4a4a4a" stroke-width="2.6"/>
<line x1="1089.3" y1="1367.1" x2="1089.3" y2="1372.1" stroke="#4a4a4a" stroke-width="2.6"/>
<line x1="1106" y1="1367.1" x2="1106" y2="1372.1" stroke="#4a4a4a" stroke-width="2.6"/>
<line x1="1120.7" y1="1367.1" x2="1120.7" y2="1372.1" stroke="#4a4a4a" stroke-width="2.6"/>
<line x1="1133.8" y1="1367.1" x2="1133.8" y2="1377.1" stroke="#4a4a4a" stroke-width="2.6"/>
<text x="1132.8" y="1406.4" font-size="27.5" text-anchor="middle" font-weight="bold" fill="#000">1</text>
<line x1="1220.2" y1="1367.1" x2="1220.2" y2="1372.1" stroke="#4a4a4a" stroke-width="2.6"/>
<line x1="1270.7" y1="1367.1" x2="1270.7" y2="1372.1" stroke="#4a4a4a" stroke-width="2.6"/>
<line x1="1306.6" y1="1367.1" x2="1306.6" y2="1372.1" stroke="#4a4a4a" stroke-width="2.6"/>
<line x1="1334.4" y1="1367.1" x2="1334.4" y2="1372.1" stroke="#4a4a4a" stroke-width="2.6"/>
<line x1="1357.1" y1="1367.1" x2="1357.1" y2="1372.1" stroke="#4a4a4a" stroke-width="2.6"/>
<line x1="1376.3" y1="1367.1" x2="1376.3" y2="1372.1" stroke="#4a4a4a" stroke-width="2.6"/>
<line x1="1393" y1="1367.1" x2="1393" y2="1372.1" stroke="#4a4a4a" stroke-width="2.6"/>
<line x1="1407.7" y1="1367.1" x2="1407.7" y2="1372.1" stroke="#4a4a4a" stroke-width="2.6"/>
<line x1="1420.8" y1="1367.1" x2="1420.8" y2="1377.1" stroke="#4a4a4a" stroke-width="2.6"/>
<text x="1419.8" y="1406.4" font-size="27.5" text-anchor="middle" font-weight="bold" fill="#000">10</text>
<line x1="888.6" y1="1291.2" x2="888.6" y2="1308" stroke="#111" stroke-width="2.4"/>
<line x1="878.9" y1="1291.2" x2="898.3" y2="1291.2" stroke="#111" stroke-width="2.6"/>
<line x1="878.9" y1="1308" x2="898.3" y2="1308" stroke="#111" stroke-width="2.6"/>
<rect x="880.1" y="1291.1" width="17" height="17" fill="#000"/>
<line x1="1025.6" y1="1180.2" x2="1025.6" y2="1197.8" stroke="#111" stroke-width="2.4"/>
<line x1="1015.9" y1="1180.2" x2="1035.3" y2="1180.2" stroke="#111" stroke-width="2.6"/>
<line x1="1015.9" y1="1197.8" x2="1035.3" y2="1197.8" stroke="#111" stroke-width="2.6"/>
<rect x="1017.1" y="1180.5" width="17" height="17" fill="#000"/>
<line x1="1089" y1="1153" x2="1089" y2="1175.6" stroke="#111" stroke-width="2.4"/>
<line x1="1079.3" y1="1153" x2="1098.7" y2="1153" stroke="#111" stroke-width="2.6"/>
<line x1="1079.3" y1="1175.6" x2="1098.7" y2="1175.6" stroke="#111" stroke-width="2.6"/>
<rect x="1080.5" y="1154.5" width="17" height="17" fill="#000"/>
<line x1="1131" y1="1100" x2="1131" y2="1125.6" stroke="#111" stroke-width="2.4"/>
<line x1="1121.3" y1="1100" x2="1140.7" y2="1100" stroke="#111" stroke-width="2.6"/>
<line x1="1121.3" y1="1125.6" x2="1140.7" y2="1125.6" stroke="#111" stroke-width="2.6"/>
<rect x="1122.5" y="1103.5" width="17" height="17" fill="#000"/>
<line x1="1162" y1="1065.4" x2="1162" y2="1092.4" stroke="#111" stroke-width="2.4"/>
<line x1="1152.3" y1="1065.4" x2="1171.7" y2="1065.4" stroke="#111" stroke-width="2.6"/>
<line x1="1152.3" y1="1092.4" x2="1171.7" y2="1092.4" stroke="#111" stroke-width="2.6"/>
<rect x="1153.5" y="1069.5" width="17" height="17" fill="#000"/>
<line x1="1255" y1="1023.5" x2="1255" y2="1048.5" stroke="#111" stroke-width="2.4"/>
<line x1="1245.3" y1="1023.5" x2="1264.7" y2="1023.5" stroke="#111" stroke-width="2.6"/>
<line x1="1245.3" y1="1048.5" x2="1264.7" y2="1048.5" stroke="#111" stroke-width="2.6"/>
<rect x="1246.5" y="1027.5" width="17" height="17" fill="#000"/>
<line x1="1344.5" y1="968.7" x2="1344.5" y2="1001.9" stroke="#111" stroke-width="2.4"/>
<line x1="1334.8" y1="968.7" x2="1354.2" y2="968.7" stroke="#111" stroke-width="2.6"/>
<line x1="1334.8" y1="1001.9" x2="1354.2" y2="1001.9" stroke="#111" stroke-width="2.6"/>
<rect x="1336" y="976.3" width="17" height="17" fill="#000"/>
<line x1="1396.3" y1="934.3" x2="1396.3" y2="969.1" stroke="#111" stroke-width="2.4"/>
<line x1="1386.6" y1="934.3" x2="1406" y2="934.3" stroke="#111" stroke-width="2.6"/>
<line x1="1386.6" y1="969.1" x2="1406" y2="969.1" stroke="#111" stroke-width="2.6"/>
<rect x="1387.8" y="942.7" width="17" height="17" fill="#000"/>
<line x1="1432.4" y1="881.8" x2="1432.4" y2="919.9" stroke="#111" stroke-width="2.4"/>
<line x1="1422.7" y1="881.8" x2="1442.1" y2="881.8" stroke="#111" stroke-width="2.6"/>
<line x1="1422.7" y1="919.9" x2="1442.1" y2="919.9" stroke="#111" stroke-width="2.6"/>
<rect x="1423.9" y="891.9" width="17" height="17" fill="#000"/>
<line x1="888.4" y1="1296" x2="1432.1" y2="908.7" stroke="#f00" stroke-width="3"/>
<text x="870" y="910" font-size="20" text-anchor="start" font-weight="bold" fill="#000">Sensitivity = &#160;2.39 ng <tspan font-family="'Liberation Serif', serif" font-weight="normal">&#956;</tspan>A mL<tspan dy="-11" font-size="16">-1</tspan></text>
<text x="870" y="946" font-size="20" text-anchor="start" font-weight="bold" fill="#000">LOD = 0.14 ng/mL</text>
<text x="870" y="982" font-size="20" text-anchor="start" font-weight="bold" fill="#000">R<tspan dy="-9" font-size="11">2</tspan><tspan dy="9">= 0.990</tspan></text>
<text transform="translate(1145,1457.3) scale(1.0,1)" font-size="43.3" text-anchor="middle" font-weight="bold">log[PSA (ng/mL)]</text>
<text transform="translate(792.3,1112.5) rotate(-90)" font-size="44" text-anchor="middle" font-weight="bold"><tspan font-family="'Liberation Serif', serif" font-weight="normal">&#916;</tspan>i <tspan font-weight="normal">(</tspan><tspan font-family="'Liberation Serif', serif" font-weight="normal">&#956;</tspan>A<tspan font-weight="normal">)</tspan></text>
<text transform="translate(766.5,811.7) scale(0.933,1)" font-size="80.4" text-anchor="start" font-weight="bold">D</text>
</svg>
</body></html>
